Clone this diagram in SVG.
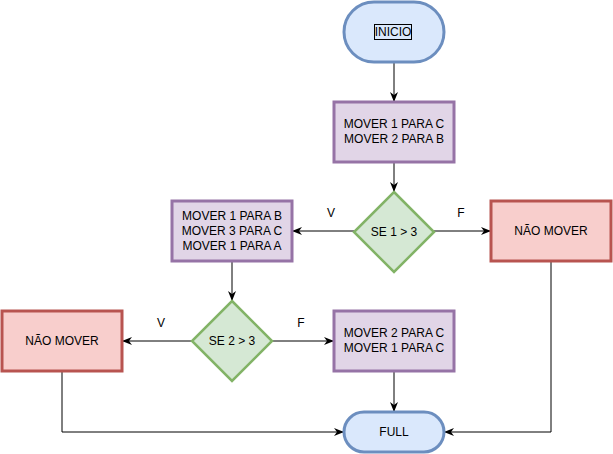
<svg xmlns="http://www.w3.org/2000/svg" width="613" height="454" viewBox="0 0 613 454">
<defs>
<style>
.t{font-family:"Liberation Sans",Arial,sans-serif;font-size:12px;fill:#000;text-anchor:middle}
.term{fill:#dae8fc;stroke:#6c8ebf;stroke-width:3}
.proc{fill:#e1d5e7;stroke:#9673a6;stroke-width:3}
.dec{fill:#d5e8d4;stroke:#82b366;stroke-width:2.5}
.no{fill:#f8cecc;stroke:#b85450;stroke-width:3}
.c{fill:none;stroke:#000;stroke-width:1;marker-end:url(#a)}
</style>
<marker id="a" viewBox="0 0 10 10" refX="9" refY="5" markerWidth="10" markerHeight="10" markerUnits="userSpaceOnUse" orient="auto">
<path d="M0,1 L10,5 L0,9 L3,5 z" fill="#000"/>
</marker>
</defs>
<g id="connectors">
<path class="c" d="M394,62 L394,101"/>
<path class="c" d="M394,162 L394,191"/>
<path class="c" d="M354,231 L293,231"/>
<path class="c" d="M434,231 L490,231"/>
<path class="c" d="M232,261 L232,300"/>
<path class="c" d="M192,341 L123,341"/>
<path class="c" d="M272,341 L333,341"/>
<path class="c" d="M394,371 L394,411"/>
<path class="c" d="M62,371 L62,432 L343,432"/>
<path class="c" d="M551,261 L551,432 L445,432"/>
<text class="t" x="331" y="217">V</text>
<text class="t" x="461" y="217">F</text>
<text class="t" x="161" y="327">V</text>
<text class="t" x="301" y="327">F</text>
</g>
<g id="inicio">
<rect class="term" x="344" y="2" width="100" height="60" rx="30" ry="30"/>
<rect x="374.5" y="24.5" width="37" height="15" fill="none" stroke="#000" stroke-width="1"/>
<text class="t" x="393" y="36">INICIO</text>
</g>
<g id="box1">
<rect class="proc" x="334" y="102" width="120" height="60"/>
<text class="t" x="394" y="128">MOVER 1 PARA C</text>
<text class="t" x="394" y="143">MOVER 2 PARA B</text>
</g>
<g id="dec1">
<path class="dec" d="M394,192 L434,232 L394,272 L354,232 z"/>
<text class="t" x="394" y="236">SE 1 &gt; 3</text>
</g>
<g id="box2">
<rect class="proc" x="172" y="201" width="120" height="60"/>
<text class="t" x="232" y="220">MOVER 1 PARA B</text>
<text class="t" x="232" y="235">MOVER 3 PARA C</text>
<text class="t" x="232" y="250">MOVER 1 PARA A</text>
</g>
<g id="nao1">
<rect class="no" x="491" y="201" width="120" height="60"/>
<text class="t" x="551" y="235">NÃO MOVER</text>
</g>
<g id="dec2">
<path class="dec" d="M232,301 L272,341 L232,381 L192,341 z"/>
<text class="t" x="232" y="345">SE 2 &gt; 3</text>
</g>
<g id="nao2">
<rect class="no" x="2" y="311" width="120" height="60"/>
<text class="t" x="62" y="345">NÃO MOVER</text>
</g>
<g id="box3">
<rect class="proc" x="334" y="311" width="120" height="60"/>
<text class="t" x="394" y="337">MOVER 2 PARA C</text>
<text class="t" x="394" y="352">MOVER 1 PARA C</text>
</g>
<g id="full">
<rect class="term" x="344" y="412" width="100" height="40" rx="20" ry="20"/>
<text class="t" x="394" y="436">FULL</text>
</g>
</svg>
